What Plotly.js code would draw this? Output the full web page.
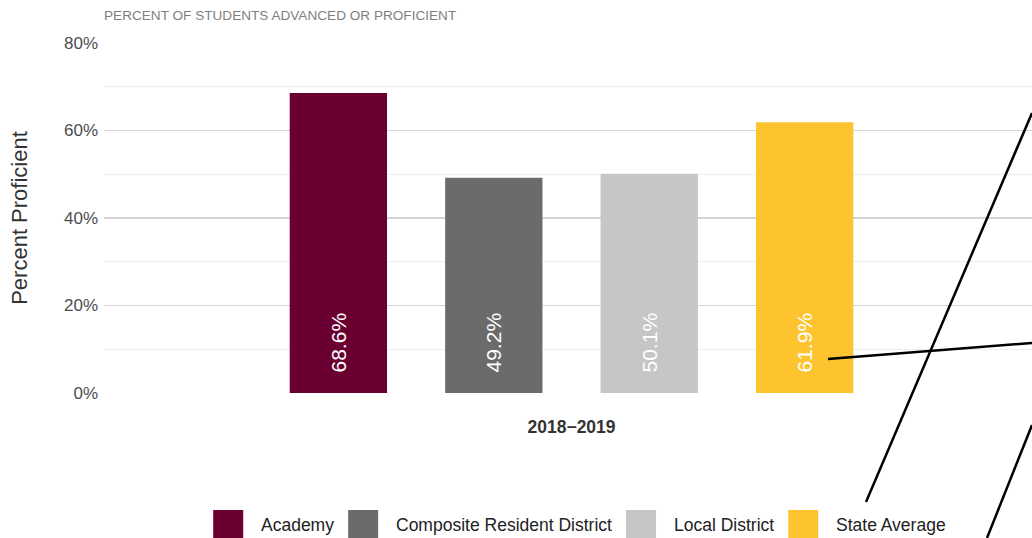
<!DOCTYPE html>
<html>
<head>
<meta charset="utf-8">
<script src="https://cdn.plot.ly/plotly-3.0.1.min.js"></script>
<style>html,body{margin:0;padding:0;background:#fff;}#chart{width:1032px;height:538px;}</style>
</head>
<body>
<div id="chart"></div>
<script>
// ---- data ----
const categories = ["2018\u22122019"];
const seriesNames = ["Academy", "Composite Resident District", "Local District", "State Average"];
const seriesValues = [[68.6], [49.2], [50.1], [61.9]];
const seriesColors = ["#6a0032", "#6b6b6b", "#c6c6c6", "#fdc42f"];
const yTickVals = [0, 20, 40, 60, 80];
const yTickText = ["0%", "20%", "40%", "60%", "80%"];

const FONT = "Liberation Sans, Arial, sans-serif";
const W = 1032, H = 538;
const L = 104, R = 1032, T = 43, B = 393;
const px = x => (x - L) / (R - L);
const py = y => (B - y) / (B - T);

const traces = seriesNames.map((name, i) => ({
  type: "bar",
  name: name,
  x: categories,
  y: seriesValues[i],
  marker: { color: seriesColors[i] },
  texttemplate: "\u00a0\u00a0\u00a0%{y:.1f}%",
  textposition: "inside",
  insidetextanchor: "start",
  textangle: -90,
  textfont: { color: "#ffffff", size: 21, family: FONT },
  hoverinfo: "name+y",
  showlegend: false
}));

// overlay pen strokes seen in the reference
const strokes = [
  [828, 359, 1032, 343],
  [866, 502, 1032, 113],
  [987, 538, 1032, 425]
];
const shapes = strokes.map(s => ({
  type: "line", xref: "paper", yref: "paper",
  x0: px(s[0]), y0: py(s[1]), x1: px(s[2]), y1: py(s[3]),
  line: { color: "#000000", width: 2.5 }, layer: "above"
}));

// manual legend with large swatches
const LEG_FONT_SIZE = 17.5;
const ctx = document.createElement("canvas").getContext("2d");
ctx.font = LEG_FONT_SIZE + "px 'Liberation Sans'";
const SW = 30, SW_TEXT_GAP = 16, ITEM_GAP = 16;
const widths = seriesNames.map(n => ctx.measureText(n).width);
let total = 0;
widths.forEach((w, i) => { total += SW + SW_TEXT_GAP + w + (i < widths.length - 1 ? ITEM_GAP : 0); });
let cur = 579 - total / 2;
const annotations = [];
const legTop = 510, legMid = 525;
seriesNames.forEach((n, i) => {
  shapes.push({
    type: "rect", xref: "paper", yref: "paper",
    x0: px(cur), x1: px(cur + SW), y0: py(legTop + SW), y1: py(legTop),
    fillcolor: seriesColors[i], line: { width: 0 }, layer: "above"
  });
  const tx = cur + SW + SW_TEXT_GAP;
  annotations.push({
    xref: "paper", yref: "paper", x: px(tx), y: py(legMid),
    xanchor: "left", yanchor: "middle", showarrow: false,
    text: n, font: { size: LEG_FONT_SIZE, color: "#222222", family: FONT }
  });
  cur = tx + widths[i] + ITEM_GAP;
});

const layout = {
  width: W, height: H,
  margin: { l: L, r: W - R, t: T, b: H - B },
  paper_bgcolor: "#ffffff", plot_bgcolor: "#ffffff",
  font: { family: FONT, color: "#333333" },
  barmode: "group",
  bargap: 0.33,
  bargroupgap: 0.374,
  showlegend: false,
  title: {
    text: "PERCENT OF STUDENTS ADVANCED OR PROFICIENT",
    font: { size: 13.6, color: "#7f7f7f", family: FONT },
    x: 104 / W, xanchor: "left", xref: "container",
    y: 1 - 15 / H, yanchor: "middle", yref: "container"
  },
  xaxis: {
    type: "category",
    range: [-0.5038, 0.4962],
    showgrid: false, zeroline: false, showline: false,
    ticks: "",
    tickfont: { size: 17.5, color: "#333333", family: FONT, weight: "bold" },
    ticklabelstandoff: 21
  },
  yaxis: {
    range: [0, 80],
    tickvals: yTickVals, ticktext: yTickText,
    showgrid: true, gridcolor: "#d4d4d4", gridwidth: 1.7,
    zeroline: false, showline: false, ticks: "",
    tickfont: { size: 17, color: "#4d4d4d", family: FONT },
    ticklabelstandoff: 5,
    minor: { dtick: 10, showgrid: true, gridcolor: "#eeeeee", gridwidth: 1 },
    title: { text: "Percent Proficient", font: { size: 22, color: "#333333", family: FONT }, standoff: 30 }
  },
  shapes: shapes,
  annotations: annotations
};

Plotly.newPlot("chart", traces, layout, { displayModeBar: false, staticPlot: true });
</script>
</body>
</html>
